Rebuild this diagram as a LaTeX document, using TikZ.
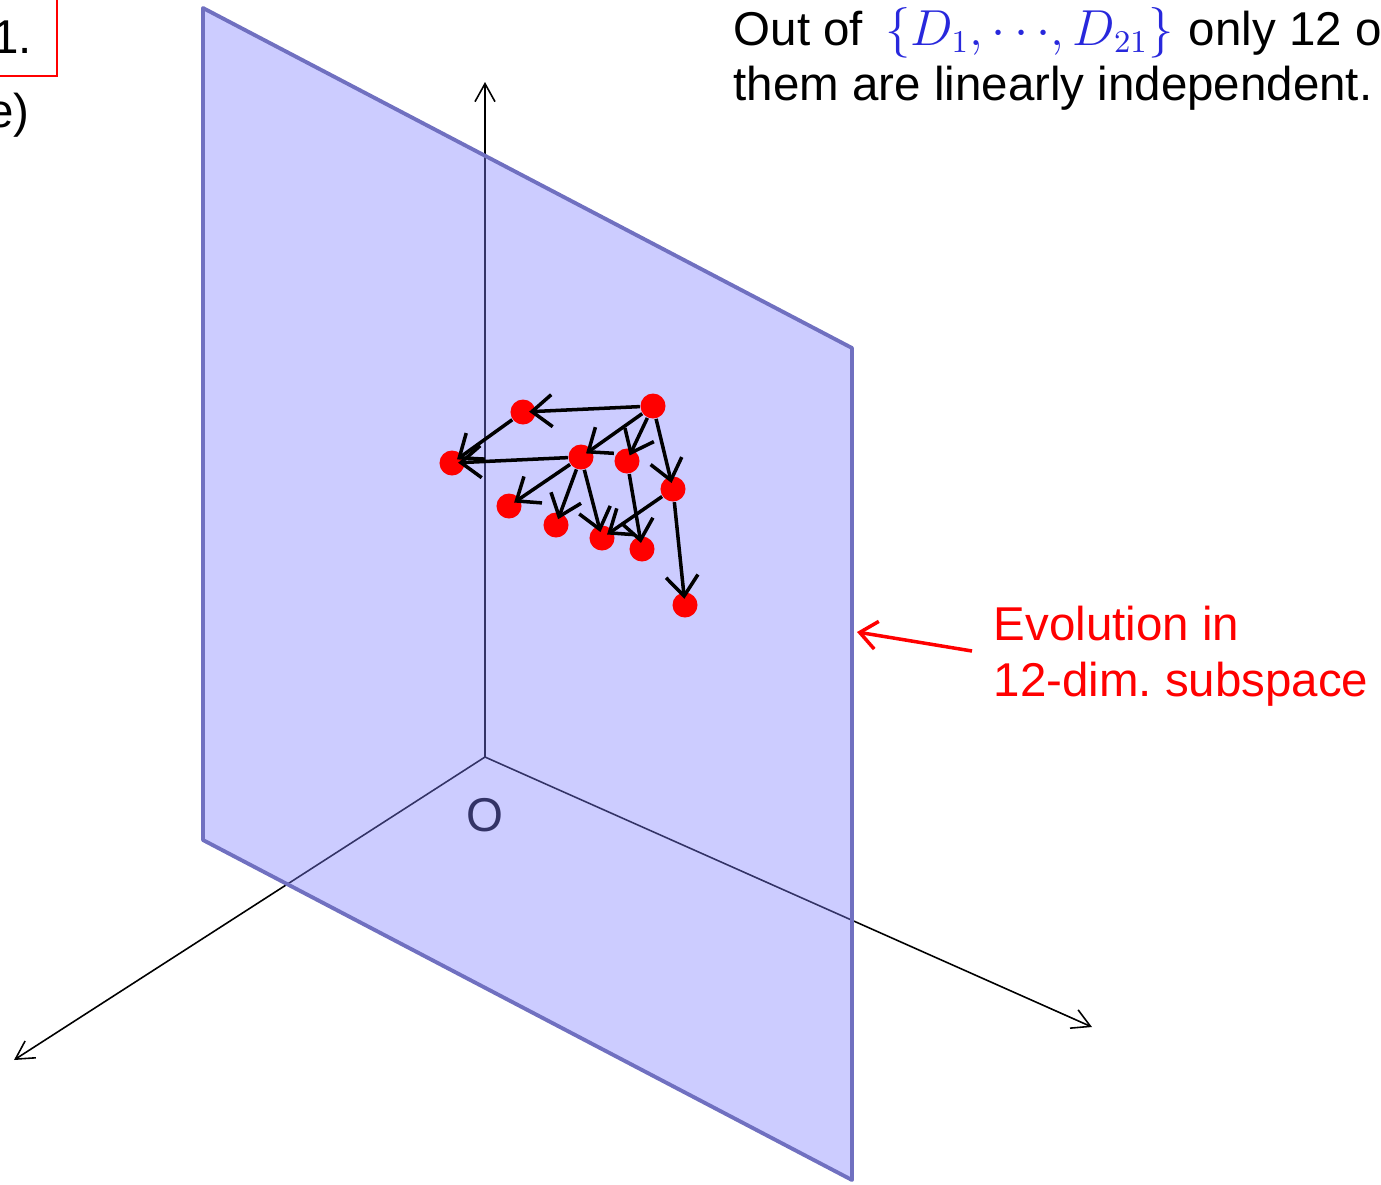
\documentclass[tikz,border=0pt]{standalone}
\usepackage{fontspec}
\setmainfont{Liberation Sans}
\usepackage{amsmath,amssymb}
\usepackage{xcolor}
\usetikzlibrary{arrows.meta, positioning}
\definecolor{planefill}{RGB}{128,128,255}
\definecolor{planeedge}{RGB}{112,112,192}
\definecolor{setblue}{RGB}{40,40,220}
\definecolor{dotred}{RGB}{255,0,0}

\begin{document}
\begin{tikzpicture}[
  x=0.01cm, y=-0.01cm,
  every node/.style={font=\fontsize{13.5}{16}\selectfont\frenchspacing},
  axis/.style={line width=0.45pt, -{Straight Barb[length=1.8mm, width=2mm]}},
  plane/.style={draw=planeedge, line width=1.1pt, fill=planefill,
                fill opacity=0.4, line join=round},
  dot/.style={circle, fill=dotred, minimum size=0.25cm, inner sep=0pt},
  arr/.style={line width=1pt, shorten >=-2pt,
              -{Straight Barb[length=2mm, width=3.2mm]}},
  note/.style={text=red, align=left, inner sep=0pt}
]
\useasboundingbox (0,0) rectangle (1381,1184);
\clip (0,0) rectangle (1381,1184);

% axes (behind the plane)
\coordinate (O)    at (485,757);
\coordinate (zend) at (485,82);
\coordinate (xend) at (14,1060);
\coordinate (yend) at (1092,1027);
\draw[axis] (O) -- (zend);
\draw[axis] (O) -- (xend);
\draw[axis] (O) -- (yend);
\node (olabel) at (485,815) {O};

% the subspace
\draw[plane] (203,8) -- (852,348) -- (852,1180) -- (203,840) -- cycle;

% states
\node[dot] (a) at (653,406) {};
\node[dot] (b) at (523,412) {};
\node[dot] (c) at (452,463) {};
\node[dot] (d) at (581,457) {};
\node[dot] (e) at (627,461) {};
\node[dot] (f) at (673,489) {};
\node[dot] (g) at (509,506) {};
\node[dot] (h) at (556,525) {};
\node[dot] (i) at (602,538) {};
\node[dot] (j) at (642,549) {};
\node[dot] (k) at (685,605) {};

\draw[arr] (a) -- (b); \draw[arr] (b) -- (c); \draw[arr] (d) -- (c);
\draw[arr] (a) -- (d); \draw[arr] (a) -- (e); \draw[arr] (a) -- (f);
\draw[arr] (d) -- (g); \draw[arr] (d) -- (h); \draw[arr] (d) -- (i);
\draw[arr] (e) -- (j); \draw[arr] (f) -- (i); \draw[arr] (f) -- (k);

% label
\node[note, anchor=north west] (evo) at (993,605) {Evolution in\\12-dim. subspace};
\coordinate (evotail) at (972,651);
\coordinate (evohead) at (857,632);
\draw[red, line width=1pt, -{Straight Barb[length=1.7mm, width=2.8mm]}] (evotail) -- (evohead);

% top text
\node[anchor=base west, inner sep=0pt] (line1) at (733,45)
  {Out of\hspace{0.22cm}{\color{setblue}$\{D_1,\cdots\!,D_{21}\}$}\hspace{0.15cm}only 12 of};
\node[anchor=base west, inner sep=0pt] (line2) at (733,100)
  {them are linearly independent.};

% cut-off slide text at the left
\node[draw=red, line width=0.6pt, anchor=south east, inner xsep=0.25cm,
      inner ysep=0.22cm] (stepbox) at (58,77) {1.};
\node[anchor=base east, inner sep=0pt] (stepnote) at (30,127) {e)};
\end{tikzpicture}
\end{document}
